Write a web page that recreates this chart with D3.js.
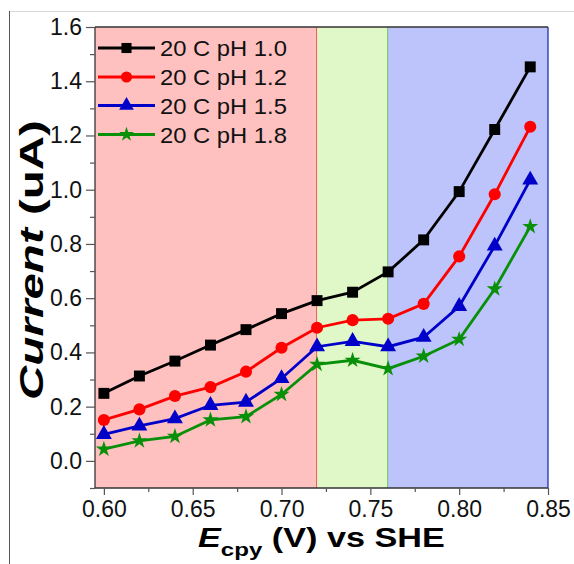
<!DOCTYPE html>
<html>
<head>
<meta charset="utf-8">
<script src="https://cdn.jsdelivr.net/npm/d3@7"></script>
<style>
body { margin: 0; background: #fff; }
text { font-family: Arial, "Liberation Sans", sans-serif; }
</style>
</head>
<body>
<script>
// potential (V) vs SHE
var potentials = [0.60, 0.62, 0.64, 0.66, 0.68, 0.70, 0.72, 0.74, 0.76, 0.78, 0.80, 0.82, 0.84]
var ph10 = [0.249, 0.313, 0.368, 0.427, 0.484, 0.543, 0.591, 0.622, 0.697, 0.815, 0.993, 1.222, 1.453]
var ph12 = [0.151, 0.190, 0.239, 0.272, 0.329, 0.417, 0.491, 0.519, 0.524, 0.579, 0.754, 0.983, 1.232]
var ph15 = [0.098, 0.129, 0.156, 0.205, 0.217, 0.304, 0.421, 0.441, 0.421, 0.456, 0.570, 0.793, 1.036]
var ph18 = [0.043, 0.074, 0.090, 0.151, 0.163, 0.245, 0.356, 0.371, 0.340, 0.386, 0.448, 0.634, 0.864]
var seriesNames = ["20 C pH 1.0", "20 C pH 1.2", "20 C pH 1.5", "20 C pH 1.8"]
var xTicks = [0.60, 0.65, 0.70, 0.75, 0.80, 0.85]
var yTicks = [0.0, 0.2, 0.4, 0.6, 0.8, 1.0, 1.2, 1.4, 1.6]
// shaded potential regions
var regionStart = [0.595, 0.72, 0.76]
var regionEnd = [0.72, 0.76, 0.85]

var W = 574, H = 564
var svg = d3.select("body").append("svg").attr("width", W).attr("height", H)

var x = d3.scaleLinear().domain([0.595, 0.85]).range([95, 548])
var y = d3.scaleLinear().domain([-0.1, 1.6]).range([488, 27])

// figure border bits
svg.append("line").attr("x1", 9.5).attr("x2", W).attr("y1", 11.5).attr("y2", 11.5)
	.attr("stroke", "#d8d8d8").attr("stroke-width", 1)
svg.append("line").attr("x1", 9.5).attr("x2", 9.5).attr("y1", 11).attr("y2", H)
	.attr("stroke", "#555").attr("stroke-width", 1)

var fills = ["#ffc0c0", "#e0f8c8", "#bcc4fb"]
var edges = ["#e02020", "#30a030", "#2030b0"]
regionStart.forEach(function(s, i) {
	svg.append("rect")
		.attr("x", x(s)).attr("y", y(1.6))
		.attr("width", x(regionEnd[i]) - x(s)).attr("height", y(-0.1) - y(1.6))
		.attr("fill", fills[i])
	svg.append("line")
		.attr("x1", x(regionEnd[i])).attr("x2", x(regionEnd[i]))
		.attr("y1", y(1.6)).attr("y2", y(-0.1))
		.attr("stroke", edges[i]).attr("stroke-width", 1.3)
})

// frame
svg.append("line").attr("x1", 95).attr("x2", 548).attr("y1", 27).attr("y2", 27).attr("stroke", "#333").attr("stroke-width", 1.3)
svg.append("line").attr("x1", 95).attr("x2", 548).attr("y1", 488).attr("y2", 488).attr("stroke", "#333").attr("stroke-width", 1.3)
svg.append("line").attr("x1", 95).attr("x2", 95).attr("y1", 27).attr("y2", 488).attr("stroke", "#333").attr("stroke-width", 1.3)

// axes
var xAxis = svg.append("g").attr("transform", "translate(0,488)")
	.call(d3.axisBottom(x).tickValues(xTicks).tickSize(7).tickFormat(d3.format(".2f")))
var xMinor = svg.append("g").attr("transform", "translate(0,488)")
	.call(d3.axisBottom(x).tickValues([0.625, 0.675, 0.725, 0.775, 0.825]).tickSize(4).tickFormat(""))
var yAxis = svg.append("g").attr("transform", "translate(95,0)")
	.call(d3.axisLeft(y).tickValues(yTicks).tickSize(9).tickFormat(d3.format(".1f")))
var yMinor = svg.append("g").attr("transform", "translate(95,0)")
	.call(d3.axisLeft(y).tickValues([-0.1, 0.1, 0.3, 0.5, 0.7, 0.9, 1.1, 1.3, 1.5]).tickSize(5).tickFormat(""))

svg.selectAll(".domain").remove()
svg.selectAll(".tick line").attr("stroke", "#555").attr("stroke-width", 1.2)
xAxis.selectAll("text").attr("font-size", 23).attr("fill", "#111").attr("y", 13).attr("dy", "0.71em")
	.style("font-family", "Arial, 'Liberation Sans', sans-serif")
yAxis.selectAll("text").attr("font-size", 23).attr("fill", "#111").attr("x", -13)
	.style("font-family", "Arial, 'Liberation Sans', sans-serif")

// series
var data = [ph10, ph12, ph15, ph18]
var colors = ["#000000", "#ff0000", "#0000c8", "#089008"]
var symbols = [d3.symbolSquare, d3.symbolCircle, d3.symbolTriangle, d3.symbolStar]
var sizes = [120, 115, 110, 80]

var line = d3.line().x(function(d) { return x(d[0]) }).y(function(d) { return y(d[1]) })

data.forEach(function(vals, i) {
	var pts = potentials.map(function(p, j) { return [p, vals[j]] })
	svg.append("path").datum(pts).attr("d", line)
		.attr("fill", "none").attr("stroke", colors[i]).attr("stroke-width", 2.8)
	svg.selectAll(".m" + i).data(pts).enter().append("path")
		.attr("class", "m" + i)
		.attr("transform", function(d) { return "translate(" + x(d[0]) + "," + y(d[1]) + ")" })
		.attr("d", d3.symbol().type(symbols[i]).size(sizes[i]))
		.attr("fill", colors[i])
})

// legend
var legY = [48, 77, 105.5, 134.5]
seriesNames.forEach(function(name, i) {
	svg.append("line").attr("x1", 98).attr("x2", 155).attr("y1", legY[i]).attr("y2", legY[i])
		.attr("stroke", colors[i]).attr("stroke-width", 2.8)
	svg.append("path").attr("transform", "translate(126.5," + legY[i] + ")")
		.attr("d", d3.symbol().type(symbols[i]).size(sizes[i] * 0.85))
		.attr("fill", colors[i])
	var t = svg.append("text").attr("font-size", 22.5).attr("fill", "#111")
		.attr("dy", "0.36em").text(name)
	var w = t.node().getComputedTextLength()
	t.attr("transform", "translate(160," + legY[i] + ") scale(" + (127 / w) + ",1)")
})

// x title
var xt = svg.append("text").attr("font-size", 27).attr("font-weight", "bold").attr("fill", "#000")
xt.append("tspan").attr("font-style", "italic").text("E")
xt.append("tspan").attr("font-size", 19).attr("dy", 9).text("cpy")
xt.append("tspan").attr("dy", -9).text(" (V) vs SHE")
var xw = xt.node().getBBox().width
xt.attr("transform", "translate(198,547) scale(" + (247 / xw) + ",1)")

// y title
var yt = svg.append("text").attr("font-size", 34).attr("font-weight", "bold").attr("fill", "#000")
	.attr("text-anchor", "middle")
yt.append("tspan").attr("font-style", "italic").text("Current")
yt.append("tspan").text(" (uA)")
var yw = yt.node().getBBox().width
yt.attr("transform", "translate(43,260) rotate(-90) scale(" + (280 / yw) + ",1)")
</script>
</body>
</html>
